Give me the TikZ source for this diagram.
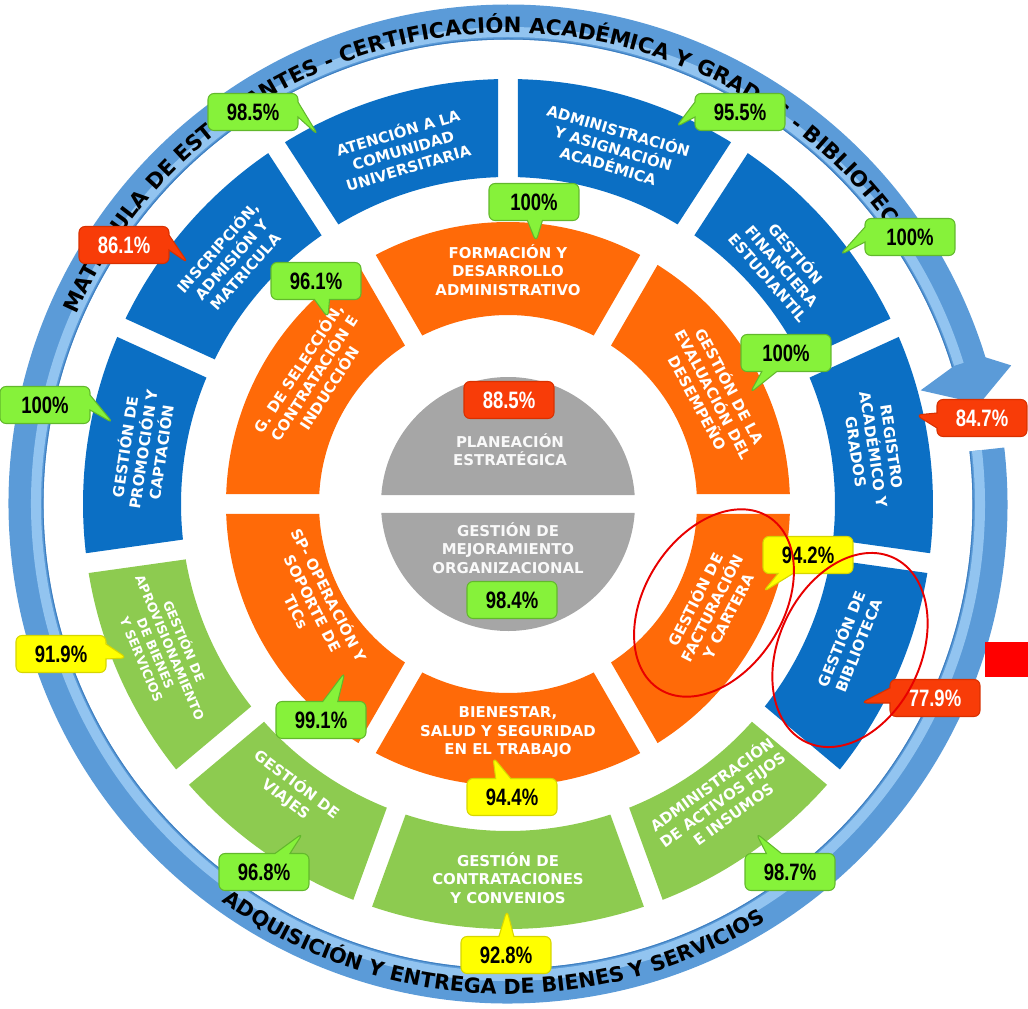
\documentclass[tikz,border=0pt]{standalone}
\usepackage{fontspec}
\setmainfont{Liberation Sans}
\newfontfamily\segfont{DejaVu Sans}
\newfontfamily\ringfont{DejaVu Sans}[UprightFont={* Bold}]
\newfontfamily\pctfont[FakeStretch=0.78]{Liberation Sans}
\usetikzlibrary{shapes.callouts,decorations.text}
\definecolor{segblue}{HTML}{0B6FC4}
\definecolor{segorange}{HTML}{FF6A08}
\definecolor{seggreen}{HTML}{8DCB50}
\definecolor{seggray}{HTML}{A6A6A6}
\definecolor{ringblue}{HTML}{5B9BD8}
\definecolor{ringlight}{HTML}{92C4F0}
\definecolor{ringedge}{HTML}{3F7FC0}
\definecolor{okgreen}{HTML}{86F23A}
\definecolor{okgreenline}{HTML}{62B82C}
\definecolor{warnyellow}{HTML}{FFFF00}
\definecolor{warnyellowline}{HTML}{D6D600}
\definecolor{badred}{HTML}{F83C08}
\definecolor{badredline}{HTML}{D83000}
\definecolor{markred}{HTML}{E80000}
\newcommand{\ringfnt}{\ringfont\fontsize{12.1}{14}\selectfont}
\newcommand{\ringfntb}{\ringfont\fontsize{11.8}{14}\selectfont}
% annular piece: start angle, end angle, inner r, outer r, colour
\newcommand{\ringpiece}[5]{%
  \fill[#5] ({#1+asin(10/#4)}:#4) arc[start angle={#1+asin(10/#4)},end angle={#2-asin(10/#4)},radius=#4]
    -- ({#2-asin(10/#3)}:#3) arc[start angle={#2-asin(10/#3)},end angle={#1+asin(10/#3)},radius=#3] -- cycle;}
\tikzset{
    segtext/.style={text=white,font=\segfont\bfseries\fontsize{8.5}{10.4}\selectfont,
      align=center,inner sep=0pt},
    smalltext/.style={segtext,font=\segfont\bfseries\fontsize{7.3}{8.8}\selectfont},
    graytext/.style={segtext,text=white!95!gray},
    pctbase/.style={rounded corners=1.2mm,minimum width=1.8cm,minimum height=0.74cm,
      inner sep=0pt,line width=0.6pt,font=\pctfont\bfseries\fontsize{13.5}{14}\selectfont},
    pct/.style={pctbase,rectangle callout,callout pointer width=0.3cm},
    okpct/.style={fill=okgreen,draw=okgreenline,text=black},
    warnpct/.style={fill=warnyellow,draw=warnyellowline,text=black},
    badpct/.style={fill=badred,draw=badredline,text=white},
    redmark/.style={draw=markred,line width=1.1pt}
}
\begin{document}
\begin{tikzpicture}[x=0.02cm,y=0.02cm]
  \useasboundingbox (-508,-504) rectangle (520,504);
  % circular arrow
  \draw[ringblue,line width=0.7cm] (6.5:482) arc[start angle=6.5,end angle=-343,radius=482];
  \draw[ringlight,line width=0.2cm] (6.5:472) arc[start angle=6.5,end angle=-343,radius=472];
  \draw[ringedge,line width=0.6pt] (6.5:465) arc[start angle=6.5,end angle=-343,radius=465];
  \fill[ringblue] (17.2:467) -- (15.4:428) -- (12.0:482) -- (15.4:522) -- (17.2:498) -- cycle;
  \path[decorate,decoration={text along path,text align=center,
      text={|\ringfnt|MATRÍCULA DE ESTUDIANTES - CERTIFICACIÓN ACADÉMICA Y GRADOS - BIBLIOTECA}}]
    (170.3:471) arc[start angle=170.3,end angle=20.3,radius=471];
  \path[decorate,decoration={text along path,text align=center,
      text={|\ringfntb|ADQUISICIÓN Y ENTREGA DE BIENES Y SERVICIOS}}]
    (-167:490) arc[start angle=-167,end angle=-17,radius=490];
  % outer ring
  \ringpiece{90}{123}{327}{425}{segblue}
  \ringpiece{57}{90}{327}{425}{segblue}
  \ringpiece{24.5}{57}{327}{425}{segblue}
  \ringpiece{-8}{24.5}{327}{425}{segblue}
  \ringpiece{-40}{-8}{327}{425}{segblue}
  \ringpiece{-70}{-40}{327}{425}{seggreen}
  \ringpiece{-110}{-70}{327}{425}{seggreen}
  \ringpiece{-140}{-110}{327}{425}{seggreen}
  \ringpiece{-172}{-140}{327}{425}{seggreen}
  \ringpiece{155.5}{188}{327}{425}{segblue}
  \ringpiece{123}{155.5}{327}{425}{segblue}
  % middle ring
  \ringpiece{60}{120}{189}{282}{segorange}
  \ringpiece{0}{60}{189}{282}{segorange}
  \ringpiece{-60}{0}{189}{282}{segorange}
  \ringpiece{-120}{-60}{189}{282}{segorange}
  \ringpiece{180}{240}{189}{282}{segorange}
  \ringpiece{120}{180}{189}{282}{segorange}
  % centre
  \fill[seggray] (4.06:127) arc[start angle=4.06,end angle=175.94,radius=127] -- cycle;
  \fill[seggray] (-4.06:127) arc[start angle=-4.06,end angle=-175.94,radius=127] -- cycle;

  \node[segtext,rotate=16.5] (atencion) at (106.5:370) {ATENCIÓN A LA\\COMUNIDAD\\UNIVERSITARIA};
  \node[segtext,rotate=-16.5] (asignacion) at (73.5:372) {ADMINISTRACIÓN\\Y ASIGNACIÓN\\ACADÉMICA};
  \node[segtext,rotate=-49] (financiera) at (41:364) {GESTIÓN\\FINANCIERA\\ESTUDIANTIL};
  \node[segtext,rotate=-81.5] (registro) at (8.5:370) {REGISTRO\\ACADÉMICO Y\\GRADOS};
  \node[segtext,rotate=68] (biblioteca) at (-22:368) {GESTIÓN DE\\BIBLIOTECA};
  \node[segtext,rotate=36] (activos) at (-54:364) {ADMINISTRACIÓN\\DE ACTIVOS FIJOS\\E INSUMOS};
  \node[segtext] (contratos) at (-90:374) {GESTIÓN DE\\CONTRATACIONES\\Y CONVENIOS};
  \node[segtext,rotate=-37] (viajes) at (-127:360) {GESTIÓN DE\\VIAJES};
  \node[smalltext,rotate=-67] (aprovision) at (-157:374) {GESTIÓN DE\\APROVISIONAMIENTO\\DE BIENES\\Y SERVICIOS};
  \node[segtext,rotate=81.5] (promocion) at (171.5:370) {GESTIÓN DE\\PROMOCIÓN Y\\CAPTACIÓN};
  \node[segtext,rotate=48.5] (inscripcion) at (138.5:370) {INSCRIPCIÓN,\\ADMISIÓN Y\\MATRICULA};

  \node[segtext] (formacion) at (90:234) {FORMACIÓN Y\\DESARROLLO\\ADMINISTRATIVO};
  \node[segtext,rotate=-62] (evaluacion) at (28:234) {GESTIÓN DE LA\\EVALUACIÓN DEL\\DESEMPEÑO};
  \node[segtext,rotate=63] (facturacion) at (-27:228) {GESTIÓN DE\\FACTURACIÓN\\Y CARTERA};
  \node[segtext] (bienestar) at (-90:228) {BIENESTAR,\\SALUD Y SEGURIDAD\\EN EL TRABAJO};
  \node[segtext,rotate=-63] (soporte) at (207:218) {SP- OPERACIÓN Y\\SOPORTE DE\\TICs};
  \node[segtext,rotate=57] (seleccion) at (147:232) {G. DE SELECCIÓN,\\CONTRATACIÓN E\\INDUCCIÓN};

  \node[graytext] (planeacion) at (2,54) {PLANEACIÓN\\ESTRATÉGICA};
  \node[graytext] (mejora) at (0,-44) {GESTIÓN DE\\MEJORAMIENTO\\ORGANIZACIONAL};

  \node[pct,okpct,callout absolute pointer={(-190,369)}] (atencionpct) at (-255,392) {98.5\%};
  \node[pct,okpct,callout absolute pointer={(168,377)}] (asignacionpct) at (232,392) {95.5\%};
  \node[pct,okpct,callout absolute pointer={(332,249)}] (financierapct) at (402,267) {100\%};
  \node[pct,okpct,callout absolute pointer={(28,262)}] (formacionpct) at (26,302) {100\%};
  \node[pct,badpct,callout absolute pointer={(-320,241)}] (inscripcionpct) at (-384,259) {86.1\%};
  \node[pct,okpct,callout absolute pointer={(-180,186)}] (seleccionpct) at (-192,223) {96.1\%};
  \node[pct,okpct,callout absolute pointer={(242,111)}] (evaluacionpct) at (278,151) {100\%};
  \node[pct,okpct,callout absolute pointer={(-395,81)}] (promocionpct) at (-463,99) {100\%};
  \node[pctbase,badpct] (planeacionpct) at (1,104) {88.5\%};
  \node[pct,badpct,callout absolute pointer={(408,89)}] (registropct) at (474,86) {84.7\%};
  \node[pct,warnpct,callout absolute pointer={(255,-88)}] (facturacionpct) at (300,-51) {94.2\%};
  \node[pctbase,okpct] (mejorapct) at (4,-96) {98.4\%};
  \node[pct,warnpct,callout absolute pointer={(-381,-154)}] (aprovisionpct) at (-447,-150) {91.9\%};
  \node[pct,badpct,callout absolute pointer={(353,-199)}] (bibliotecapct) at (427,-194) {77.9\%};
  \node[pct,okpct,callout absolute pointer={(-163,-168)}] (soportepct) at (-187,-216) {99.1\%};
  \node[pct,warnpct,callout absolute pointer={(-15,-253)}] (bienestarpct) at (4,-293) {94.4\%};
  \node[pct,okpct,callout absolute pointer={(-205,-329)}] (viajespct) at (-244,-368) {96.8\%};
  \node[pct,warnpct,callout absolute pointer={(-1,-406)}] (contratospct) at (-2,-451) {92.8\%};
  \node[pct,okpct,callout absolute pointer={(248,-329)}] (activospct) at (282,-368) {98.7\%};

  \draw[redmark] (206,-99) circle[x radius=102,y radius=69,rotate=57.5];
  \draw[redmark] (342,-146) circle[x radius=102,y radius=71,rotate=64.6];
  \fill[red] (477,-138) rectangle (520,-173);
\end{tikzpicture}
\end{document}
